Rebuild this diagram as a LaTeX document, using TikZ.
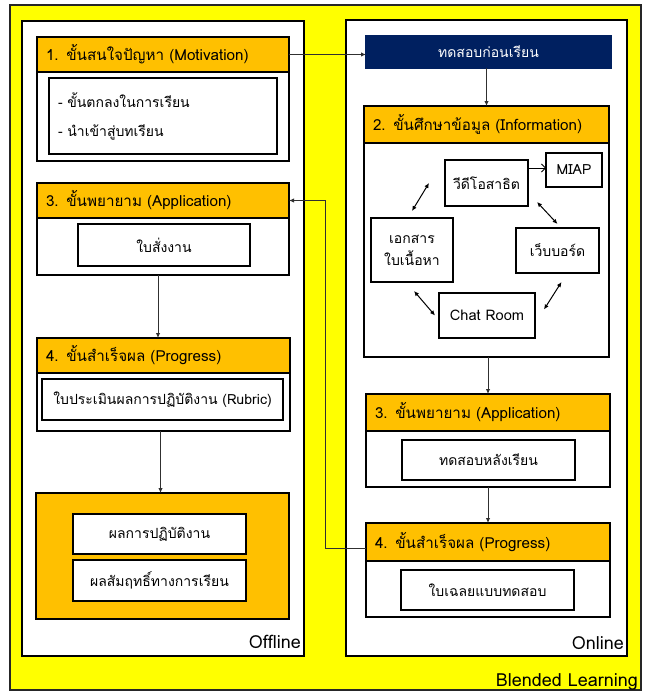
\documentclass[tikz,border=0pt]{standalone}
\usepackage{fontspec}
\setmainfont[Script=Thai]{Loma}
\usetikzlibrary{arrows.meta}
\definecolor{hdr}{HTML}{FFC000}
\definecolor{navyc}{HTML}{002060}
\definecolor{ylw}{HTML}{FFFF00}
\definecolor{conncol}{HTML}{303030}
\begin{document}
\begin{tikzpicture}[x=1pt,y=-1pt,
  every node/.style={inner sep=0pt, outer sep=0pt, font=\fontsize{14}{17}\selectfont},
  sz/.style 2 args={minimum width=#1pt, minimum height=#2pt},
  panel/.style={draw=black, line width=1.5pt, fill=white, anchor=north west},
  box/.style={draw=black, line width=1.2pt, fill=white, anchor=north west, align=center},
  hbox/.style={draw=black, line width=1.2pt, fill=hdr, anchor=north west, align=left, inner xsep=9pt, font=\fontsize{15.2}{18}\selectfont},
  conn/.style={draw=conncol, line width=0.9pt, -{Latex[length=5pt,width=4.5pt]}},
  dbl/.style={draw=black, line width=1pt, {Latex[length=5pt,width=4.5pt]}-{Latex[length=5pt,width=4.5pt]}},
  barb/.style={draw=black, line width=0.8pt, -{Straight Barb[length=4pt,width=8pt]}},
  lbl/.style={anchor=base east, font=\fontsize{18}{21}\selectfont}
]
\path[use as bounding box] (0,0) rectangle (645,693);
\fill[white] (0,0) rectangle (645,693);
\node[draw=black!85, line width=1.8pt, fill=ylw, anchor=north west, sz={631}{685}] (bl) at (10,5) {};
\node[panel, sz={282}{635}] (off) at (22,21) {};
\node[panel, sz={281}{636}] (on) at (346,20) {};

% Offline column
\node[box, sz={252}{124}] (s1) at (37,37) {};
\node[hbox, sz={252}{35}, text width=234pt] (s1h) at (37,37) {1. ขั้นสนใจปัญหา (Motivation)};
\node[box, sz={228}{76}, align=left, text width=210pt, inner xsep=9pt, font=\fontsize{14}{29}\selectfont] (s1i) at (49,78) {- ขั้นตกลงในการเรียน\\- นำเข้าสู่บทเรียน};

\node[box, sz={252}{92}] (s3off) at (37,183) {};
\node[hbox, sz={252}{35}, text width=234pt] (s3offh) at (37,183) {3. ขั้นพยายาม (Application)};
\node[box, sz={172}{42}] (s3offi) at (78,224) {ใบสั่งงาน};

\node[box, sz={253}{93}] (s4off) at (37,338) {};
\node[hbox, sz={253}{35}, text width=235pt] (s4offh) at (37,338) {4. ขั้นสำเร็จผล (Progress)};
\node[box, sz={241}{41}] (s4offi) at (42,379) {ใบประเมินผลการปฏิบัติงาน (Rubric)};

\node[box, fill=hdr, sz={253}{126}] (res) at (36,493) {};
\node[box, sz={173}{40}] (res1) at (73,514) {ผลการปฏิบัติงาน};
\node[box, sz={173}{41}] (res2) at (73,560) {ผลสัมฤทธิ์ทางการเรียน};

\node[lbl] (offl) at (301,648) {Offline};

% Online column
\node[box, draw=navyc, fill=navyc, text=white, sz={245}{32}] (pre) at (366,36) {ทดสอบก่อนเรียน};

\node[box, sz={245}{251}] (info) at (364,106) {};
\node[hbox, sz={245}{37}, text width=227pt] (infoh) at (364,106) {2. ขั้นศึกษาข้อมูล (Information)};
\node[box, sz={83}{46}] (vid) at (445,160) {วีดีโอสาธิต};
\node[box, sz={56}{34}] (miap) at (546,153) {MIAP};
\node[box, sz={82}{64}, font=\fontsize{14}{22}\selectfont] (doc) at (371,218) {เอกสาร\\ใบเนื้อหา};
\node[box, sz={83}{45}] (web) at (516,228) {เว็บบอร์ด};
\node[box, sz={96}{45}, font=\fontsize{14.6}{17}\selectfont] (chat) at (439,293) {Chat Room};

\node[box, sz={244}{93}] (s3on) at (366,394) {};
\node[hbox, sz={244}{37}, text width=226pt] (s3onh) at (366,394) {3. ขั้นพยายาม (Application)};
\node[box, sz={173}{40}] (s3oni) at (402,440) {ทดสอบหลังเรียน};

\node[box, sz={244}{94}] (s4on) at (366,523) {};
\node[hbox, sz={244}{38}, text width=226pt] (s4onh) at (366,523) {4. ขั้นสำเร็จผล (Progress)};
\node[box, sz={173}{40}] (s4oni) at (401,570) {ใบเฉลยแบบทดสอบ};

\node[lbl] (onl) at (624,649) {Online};
\node[lbl] (bll) at (638,686) {Blended Learning};

% Connectors
\draw[conn] (s1h.east) -- (s1h.east -| pre.west);
\draw[conn] (pre.south -| info.north) -- (info.north);
\draw[conn] ([xshift=-5pt]s3off.south) -- ([xshift=-5pt]s3off.south |- s4off.north);
\draw[conn] ([xshift=-3pt]s4off.south) -- ([xshift=-3pt]s4off.south |- res.north);
\draw[conn] (s3on.north |- info.south) -- (s3on.north);
\draw[conn] (s3on.south) -- (s4on.north);
\draw[conn] ([yshift=-6pt]s4onh.west) -- ++(-41,0) |- (s3offh.east);

\draw[barb] ([yshift=15pt]vid.east) -- ([yshift=15pt]vid.east -| miap.west);
\draw[dbl] ([yshift=7pt]doc.north) -- ([xshift=-16pt]vid.west);
\draw[dbl] ([xshift=9pt,yshift=4pt]vid.south east) -- ([yshift=4pt]web.north);
\draw[dbl] ([xshift=2pt,yshift=-9pt]doc.south) -- ([xshift=-4pt]chat.west);
\draw[dbl] ([xshift=9pt,yshift=6pt]chat.east) -- ([xshift=4pt,yshift=-9pt]web.south);
\end{tikzpicture}
\end{document}
